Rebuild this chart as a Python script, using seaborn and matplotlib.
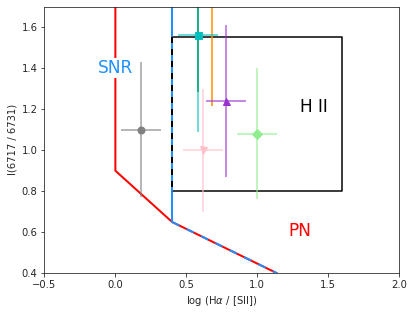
import matplotlib
matplotlib.use("Agg")
import matplotlib.pyplot as plt
import seaborn as sns
import pandas as pd

# diagnostic boundaries
snr_x = [0.0, 0.0, 0.4, 1.14]
snr_y = [1.70, 0.90, 0.65, 0.40]
hii_x = [0.4, 0.4]
hii_y = [1.70, 0.65]
diag_x = [0.4, 1.14]
diag_y = [0.65, 0.40]
box_x = [0.4, 1.6, 1.6, 0.4]
box_y = [1.55, 1.55, 0.80, 0.80]

# measured points
pt_x = [0.18, 0.58, 0.78, 0.62, 1.00]
pt_y = [1.10, 1.56, 1.24, 1.00, 1.08]
pt_xerr = [0.14, 0.14, 0.14, 0.14, 0.14]
pt_yerr = [0.33, 0.47, 0.37, 0.30, 0.32]
pt_marker = ['o', 's', '^', 'v', 'D']
pt_color = ['grey', 'c', 'darkorchid', 'pink', 'lightgreen']

# points lying above the plotted range (only error bars visible)
off_x = [0.58, 0.68]
off_y = [1.95, 1.90]
off_yerr = [0.665, 0.685]
off_color = ['green', 'darkorange']

sns.set_style("ticks")

fig, ax = plt.subplots(figsize=(415 / 72, 312 / 72), dpi=72)
fig.subplots_adjust(left=0.107, right=0.962, top=0.979, bottom=0.124)

sns.lineplot(data=pd.DataFrame({'x': snr_x, 'y': snr_y}), x='x', y='y',
             sort=False, estimator=None, color='red', lw=2, ax=ax)
sns.lineplot(data=pd.DataFrame({'x': hii_x, 'y': hii_y}), x='x', y='y',
             sort=False, estimator=None, color='dodgerblue', lw=2, ax=ax)
ax.plot(diag_x, diag_y, color='dodgerblue', lw=2, ls=(0, (4, 4)))

# H II box, left edge dashed
ax.plot([box_x[3], box_x[0], box_x[1], box_x[2], box_x[3]],
        [box_y[3], box_y[0], box_y[1], box_y[2], box_y[3]],
        color='black', lw=1.5)
ax.plot([box_x[0], box_x[3]], [box_y[0], box_y[3]], color='dodgerblue', lw=2)
ax.plot([box_x[0], box_x[3]], [box_y[0], box_y[3]], color='black', lw=2,
        ls=(0, (3, 3)))

for x, y, ye, c in zip(off_x, off_y, off_yerr, off_color):
    ax.errorbar(x, y, yerr=ye, fmt='none', ecolor=c, elinewidth=1.5)

for x, y, xe, ye, m, c in zip(pt_x, pt_y, pt_xerr, pt_yerr, pt_marker, pt_color):
    eb = ax.errorbar(x, y, xerr=xe, yerr=ye, fmt=m, color=c, ms=7,
                     ecolor=c, elinewidth=1.5)
    for line in eb[2]:
        line.set_alpha(0.75)

ax.text(0.0, 1.40, 'SNR', color='dodgerblue', fontsize=17, ha='center',
        va='center', bbox=dict(facecolor='white', edgecolor='none', pad=1))
ax.text(1.40, 1.21, 'H II', color='black', fontsize=17, ha='center', va='center')
ax.text(1.30, 0.605, 'PN', color='red', fontsize=17, ha='center', va='center')

ax.set_xlim(-0.5, 2.0)
ax.set_ylim(0.4, 1.7)
ax.set_xlabel('log (H$\\alpha$ / [SII])')
ax.set_ylabel('I(6717 / 6731)')

plt.savefig('out.png', dpi=72)
plt.close()
